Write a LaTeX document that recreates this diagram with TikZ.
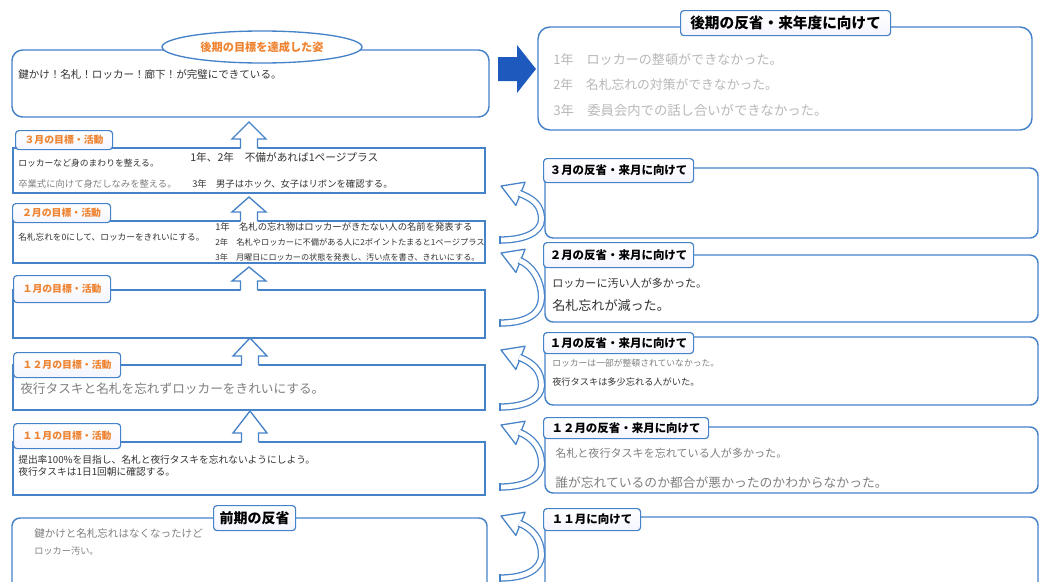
\documentclass[tikz,border=0pt]{standalone}
\usepackage{fontspec}
\usetikzlibrary{shapes.geometric}
\newfontfamily\jp{Noto Sans CJK JP}
\newcommand{\jfs}[1]{\fontsize{#1}{#1}\selectfont}
\definecolor{bblue}{RGB}{70,130,200}
\definecolor{aorange}{RGB}{238,132,50}
\definecolor{darrow}{RGB}{30,90,190}
\begin{document}
\begin{tikzpicture}[x=0.75pt,y=-0.75pt,
  frame/.style={draw=bblue,line width=1.1pt},
  rframe/.style={frame,rounded corners=6pt},
  tabbox/.style={draw=bblue,line width=0.9pt,top color=white,bottom color=blue!4,rounded corners=2.5pt,inner sep=0pt,anchor=north west},
  otab/.style={tabbox,text=aorange,font=\jp\bfseries\jfs{7.4}},
  btab/.style={tabbox,text=black,font=\jp\bfseries\jfs{8.6}},
  hand/.style={anchor=west,inner sep=0pt,text=black!80,font=\jp\jfs{#1}},
  handg/.style={hand=#1,text=black!50},
  handl/.style={hand=#1,text=black!28},
  pics/upar/.style={code={
    \path[fill=white] (-8.5,3) -- (-8.5,-9) -- (-17,-9) -- (0,-#1) -- (17,-9) -- (8.5,-9) -- (8.5,3) -- cycle;
    \draw[bblue,line width=1pt] (-8.5,0) -- (-8.5,-9) -- (-17,-9) -- (0,-#1) -- (17,-9) -- (8.5,-9) -- (8.5,0);
  }},
  pics/carr/.style={code={
    \draw[bblue,line width=0.95pt,fill=white,line join=round] (-44,0) -- (-19.9,-3.8) -- (-29.1,19.4) -- cycle;
    \draw[bblue,line width=0.95pt,double=white,double distance=3.6pt,shorten >=-1pt]
      (-45,#1) .. controls (-20,#1) and (-3.5,#1-8) .. (-3.5,0.62*#1)
      .. controls (-3.5,0.62*#1-15) and (-12.4,12.6) .. (-24.5,7.8);
    \draw[bblue,line width=0.95pt] (-45,#1-3.6) -- (-45,#1+3.6);
  }}
]
\useasboundingbox (0,0) rectangle (1040,582);
\clip (0,0) rectangle (1040,582);
\fill[white] (0,0) rectangle (1040,582);

% ---------------- left column ----------------
\draw[frame,rounded corners=8pt] (12,50) rectangle (489,117);
\node[ellipse,draw=bblue,line width=1pt,fill=white,minimum width=150pt,minimum height=24pt,
      text=aorange,font=\jp\bfseries\jfs{8.4}] (goal) at (262,47) {後期の目標を達成した姿};
\node[hand=7.9] (goalt) at (18,74) {鍵かけ！名札！ロッカー！廊下！が完璧にできている。};

\draw[frame] (13,148) rectangle (485,193);
\draw[frame] (13,221) rectangle (485,263);
\draw[frame] (13,290) rectangle (485,338);
\draw[frame] (13,365) rectangle (485,410);
\draw[frame] (13,442) rectangle (485,495);
\draw[rframe] (12,518) rectangle (487,600);

\pic at (249,148) {upar=26};
\pic at (249,221) {upar=24};
\pic at (249,290) {upar=23};
\pic at (250,365) {upar=27};
\pic at (250,442) {upar=31};

\node[otab,minimum width={97*0.75pt},minimum height={19*0.75pt}] (t3) at (15,130) {３月の目標・活動};
\node[otab,minimum width={98*0.75pt},minimum height={19*0.75pt}] (t2) at (12,203) {２月の目標・活動};
\node[otab,minimum width={97*0.75pt},minimum height={27*0.75pt}] (t1) at (13,275) {１月の目標・活動};
\node[otab,minimum width={107*0.75pt},minimum height={25*0.75pt}] (t12) at (13,352) {１２月の目標・活動};
\node[otab,minimum width={107*0.75pt},minimum height={25*0.75pt}] (t11) at (13,423) {１１月の目標・活動};
\node[btab,font=\jp\bfseries\jfs{10.5},minimum width={82*0.75pt},minimum height={25*0.75pt}] (tz) at (213,505) {前期の反省};

% 3月
\node[hand=6.6] (m3a) at (18,163) {ロッカーなど身のまわりを整える。};
\node[handg=7] (m3b) at (18,184) {卒業式に向けて身だしなみを整える。};
\node[hand=8] (m3c) at (190,157) {1年、2年　不備があれば1ページプラス};
\node[hand=7] (m3d) at (192,184) {3年　男子はホック、女子はリボンを確認する。};
% 2月
\node[hand=6.5] (m2a) at (18,237) {名札忘れを0にして、ロッカーをきれいにする。};
\node[hand=7] (m2b) at (215,227) {1年　名札の忘れ物はロッカーがきたない人の名前を発表する};
\node[hand=6.2] (m2c) at (215,242) {2年　名札やロッカーに不備がある人に2ポイントたまると1ページプラス};
\node[hand=6.1] (m2d) at (215,257) {3年　月曜日にロッカーの状態を発表し、汚い点を書き、きれいにする。};
% 12月
\node[handg=9.5] (m12a) at (20,389) {夜行タスキと名札を忘れずロッカーをきれいにする。};
% 11月
\node[hand=7.3] (m11a) at (18,460) {提出率100\%を目指し、名札と夜行タスキを忘れないようにしよう。};
\node[hand=7.3] (m11b) at (18,472) {夜行タスキは1日1回朝に確認する。};
% 前期
\node[handg=7.9] (zka) at (34,533) {鍵かけと名札忘れはなくなったけど};
\node[handg=6.9] (zkb) at (34,551) {ロッカー汚い。};

% ---------------- right column ----------------
\fill[darrow] (498,57) -- (517,57) -- (517,45) -- (536,69) -- (517,93) -- (517,81) -- (498,81) -- cycle;
\draw[frame,rounded corners=9pt] (538,27) rectangle (1032,130);
\node[btab,font=\jp\bfseries\jfs{11},minimum width={210*0.75pt},minimum height={25*0.75pt}] (tk) at (680,10) {後期の反省・来年度に向けて};
\node[handl=9.8] (k1) at (553,60) {1年　ロッカーの整頓ができなかった。};
\node[handl=9.6] (k2) at (553,85) {2年　名札忘れの対策ができなかった。};
\node[handl=10] (k3) at (553,110) {3年　委員会内での話し合いができなかった。};

\draw[rframe] (545,168) rectangle (1038,238);
\draw[rframe] (545,255) rectangle (1038,322);
\draw[rframe] (545,337) rectangle (1038,405);
\draw[rframe] (545,427) rectangle (1038,493);
\draw[rframe] (545,517) rectangle (1038,620);

\pic at (545,186) {carr=54};
\pic at (545,253) {carr=70};
\pic at (545,350) {carr=57};
\pic at (545,425) {carr=62};
\pic at (545,516) {carr=62};

\node[btab,minimum width={150*0.75pt},minimum height={24*0.75pt}] (r3) at (543,158) {３月の反省・来月に向けて};
\node[btab,minimum width={150*0.75pt},minimum height={25*0.75pt}] (r2) at (543,242) {２月の反省・来月に向けて};
\node[btab,minimum width={150*0.75pt},minimum height={21*0.75pt}] (r1) at (543,332) {１月の反省・来月に向けて};
\node[btab,minimum width={165*0.75pt},minimum height={21*0.75pt}] (r12) at (543,417) {１２月の反省・来月に向けて};
\node[btab,minimum width={97*0.75pt},minimum height={22*0.75pt}] (r11) at (543,508) {１１月に向けて};

\node[hand=8.3] (h2a) at (552,283) {ロッカーに汚い人が多かった。};
\node[hand=9.8] (h2b) at (552,306) {名札忘れが減った。};
\node[handg=6.6] (h1a) at (552,363) {ロッカーは一部が整頓されていなかった。};
\node[hand=6.9] (h1b) at (552,382) {夜行タスキは多少忘れる人がいた。};
\node[handg=8.3] (h12a) at (555,453) {名札と夜行タスキを忘れている人が多かった。};
\node[handg=9.6] (h12b) at (555,483) {誰が忘れているのか都合が悪かったのかわからなかった。};
\end{tikzpicture}
\end{document}
